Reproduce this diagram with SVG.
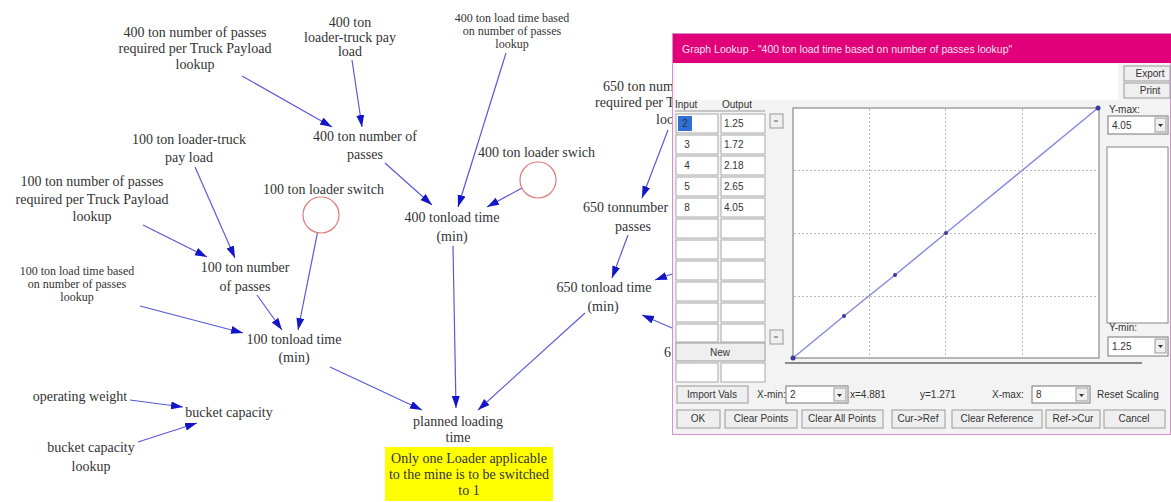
<svg xmlns="http://www.w3.org/2000/svg" width="1171" height="502" viewBox="0 0 1171 502">
<style>
.t{font-family:"Liberation Serif","Times New Roman",serif;font-size:14px;fill:#333;text-anchor:middle}
.tc{font-family:"Liberation Serif","Times New Roman",serif;font-size:12px;fill:#333;text-anchor:middle}
.ts{font-family:"Liberation Serif","Times New Roman",serif;font-size:14px;fill:#333}
.c{fill:none;stroke:#5a5ad8;stroke-width:1.2;marker-end:url(#ah)}
.sw{fill:none;stroke:#e07a7a;stroke-width:1.2}
.d{font-family:"Liberation Sans",Arial,sans-serif;font-size:10px;fill:#333}
.dm{font-family:"Liberation Sans",Arial,sans-serif;font-size:10px;fill:#333;text-anchor:middle}
.cell{fill:#fff;stroke:#a8a8a8;stroke-width:1}
.btn{fill:#efefef;stroke:#9a9a9a;stroke-width:1}
.grid{stroke:#b8b8b8;stroke-width:1;stroke-dasharray:2 2}
.pt{fill:#3a3a9a}
</style>
<defs>
<marker id="ah" markerUnits="userSpaceOnUse" markerWidth="13" markerHeight="9" refX="12" refY="4" orient="auto">
<path d="M0,0 L12,4 L0,8 z" fill="#1414c8"/>
</marker>
</defs>
<rect width="1171" height="502" fill="#fff"/>

<g id="connectors">
<line class="c" x1="242" y1="76" x2="332" y2="127"/>
<line class="c" x1="352" y1="60" x2="362" y2="127"/>
<line class="c" x1="385" y1="163" x2="432" y2="205"/>
<line class="c" x1="506" y1="53" x2="458" y2="207"/>
<line class="c" x1="522" y1="188" x2="487" y2="207"/>
<line class="c" x1="453" y1="246" x2="456" y2="408"/>
<line class="c" x1="195" y1="167" x2="235" y2="258"/>
<line class="c" x1="143" y1="225" x2="207" y2="257"/>
<line class="c" x1="317.5" y1="232.6" x2="298" y2="330"/>
<line class="c" x1="257" y1="295" x2="282" y2="330"/>
<line class="c" x1="140" y1="306" x2="243" y2="333"/>
<line class="c" x1="330" y1="367" x2="422" y2="410"/>
<line class="c" x1="130" y1="400" x2="183" y2="407"/>
<line class="c" x1="138" y1="442" x2="197" y2="423"/>
<line class="c" x1="585" y1="313" x2="478" y2="410"/>
<line class="c" x1="668" y1="130" x2="642" y2="198"/>
<line class="c" x1="628" y1="235" x2="612" y2="278"/>
<line class="c" x1="672" y1="274" x2="655" y2="280"/>
<line class="c" x1="672" y1="328" x2="642" y2="315"/>
</g>

<g id="n400lookup"><text class="t" x="195" y="37">400 ton number of passes</text><text class="t" x="195" y="53">required per Truck Payload</text><text class="t" x="195" y="69">lookup</text></g>
<g id="n400payload"><text class="t" x="350" y="27">400 ton</text><text class="t" x="350" y="42">loader-truck pay</text><text class="t" x="350" y="56">load</text></g>
<g id="n400timelookup"><text class="tc" x="512" y="22">400 ton load time based</text><text class="tc" x="512" y="35">on number of passes</text><text class="tc" x="512" y="48">lookup</text></g>
<g id="n400passes"><text class="t" x="365" y="141">400 ton number of</text><text class="t" x="365" y="159">passes</text></g>
<g id="n400switch"><text class="ts" x="478" y="157">400 ton loader swich</text><circle class="sw" cx="538" cy="180" r="18"/></g>
<g id="n400time"><text class="t" x="452" y="222">400 tonload time</text><text class="t" x="452" y="241">(min)</text></g>
<g id="n100payload"><text class="t" x="189" y="144">100 ton loader-truck</text><text class="t" x="189" y="162">pay load</text></g>
<g id="n100lookup"><text class="t" x="92" y="186">100 ton number of passes</text><text class="t" x="92" y="204">required per Truck Payload</text><text class="t" x="92" y="221">lookup</text></g>
<g id="n100switch"><text class="ts" x="263" y="194">100 ton loader switch</text><circle class="sw" cx="321" cy="215" r="18"/></g>
<g id="n100passes"><text class="t" x="245" y="272">100 ton number</text><text class="t" x="245" y="291">of passes</text></g>
<g id="n100timelookup"><text class="tc" x="77" y="275">100 ton load time based</text><text class="tc" x="77" y="288">on number of passes</text><text class="tc" x="77" y="301">lookup</text></g>
<g id="n100time"><text class="t" x="294" y="344">100 tonload time</text><text class="t" x="294" y="362">(min)</text></g>
<g id="nopweight"><text class="t" x="80" y="401">operating weight</text></g>
<g id="nbucket"><text class="t" x="229" y="417">bucket capacity</text></g>
<g id="nbucketlookup"><text class="t" x="91" y="452">bucket capacity</text><text class="t" x="91" y="471">lookup</text></g>
<g id="nplanned"><text class="t" x="458" y="426">planned loading</text><text class="t" x="458" y="442">time</text></g>
<g id="nnote"><rect x="385" y="447" width="168" height="54" fill="#ffff00"/><text class="t" x="469" y="463">Only one Loader applicable</text><text class="t" x="469" y="479">to the mine is to be switched</text><text class="t" x="469" y="495">to 1</text></g>
<g id="n650lookup"><text class="ts" x="603" y="91">650 ton num</text><text class="ts" x="595" y="107">required per T</text><text class="ts" x="656" y="124">loo</text></g>
<g id="n650passes"><text class="ts" x="583" y="212">650 tonnumber</text><text class="t" x="633" y="231">passes</text></g>
<g id="n650time"><text class="t" x="604" y="292">650 tonload time</text><text class="t" x="603" y="311">(min)</text></g>
<g id="n650other"><text class="ts" x="664" y="357">6</text></g>

<g id="dialog">
<rect x="672.5" y="33.5" width="498" height="401" fill="#f4f3f4" stroke="#d890c8"/>
<rect x="673" y="34" width="498" height="29" fill="#e2007a"/>
<text x="682" y="53" font-family="Liberation Sans,Arial,sans-serif" font-size="10.5" fill="#fbe0ef">Graph Lookup - "400 ton load time based on number of passes lookup"</text>
<rect x="675" y="64" width="443" height="36" fill="#fff"/>
<rect class="btn" x="1124" y="66" width="46" height="15"/><text class="dm" x="1150" y="77">Export</text>
<rect class="btn" x="1124" y="83" width="46" height="15"/><text class="dm" x="1150" y="94">Print</text>
<text class="d" x="675" y="108">Input</text><text class="d" x="722" y="108">Output</text>
<line x1="675" y1="111" x2="765" y2="111" stroke="#999"/>
<g id="table">
<rect class="cell" x="676" y="114" width="42" height="19"/><rect class="cell" x="721" y="114" width="44" height="19"/>
<rect class="cell" x="676" y="135" width="42" height="19"/><rect class="cell" x="721" y="135" width="44" height="19"/>
<rect class="cell" x="676" y="156" width="42" height="19"/><rect class="cell" x="721" y="156" width="44" height="19"/>
<rect class="cell" x="676" y="177" width="42" height="19"/><rect class="cell" x="721" y="177" width="44" height="19"/>
<rect class="cell" x="676" y="198" width="42" height="19"/><rect class="cell" x="721" y="198" width="44" height="19"/>
<rect class="cell" x="676" y="219" width="42" height="19"/><rect class="cell" x="721" y="219" width="44" height="19"/>
<rect class="cell" x="676" y="240" width="42" height="19"/><rect class="cell" x="721" y="240" width="44" height="19"/>
<rect class="cell" x="676" y="261" width="42" height="19"/><rect class="cell" x="721" y="261" width="44" height="19"/>
<rect class="cell" x="676" y="282" width="42" height="19"/><rect class="cell" x="721" y="282" width="44" height="19"/>
<rect class="cell" x="676" y="303" width="42" height="19"/><rect class="cell" x="721" y="303" width="44" height="19"/>
<rect class="cell" x="676" y="324" width="42" height="18"/><rect class="cell" x="721" y="324" width="44" height="18"/>
<rect class="btn" x="676" y="343" width="89" height="18"/><text class="dm" x="720" y="356">New</text>
<rect class="cell" x="676" y="363" width="42" height="19"/><rect class="cell" x="721" y="363" width="44" height="19"/>
<rect x="678" y="116" width="14" height="15" fill="#2f6fd8"/><text class="dm" x="685" y="127" fill="#fff">2</text>
<text class="dm" x="687" y="148">3</text><text class="dm" x="687" y="169">4</text><text class="dm" x="687" y="190">5</text><text class="dm" x="687" y="211">8</text>
<text class="d" x="724" y="127">1.25</text><text class="d" x="724" y="148">1.72</text><text class="d" x="724" y="169">2.18</text><text class="d" x="724" y="190">2.65</text><text class="d" x="724" y="211">4.05</text>
<rect class="btn" x="770" y="114" width="13" height="14"/><line x1="774" y1="121" x2="778" y2="121" stroke="#555"/>
<rect class="btn" x="770" y="330" width="13" height="14"/><line x1="774" y1="337" x2="778" y2="337" stroke="#555"/>
</g>
<g id="plot">
<rect x="793" y="108" width="306" height="250" fill="#fff" stroke="#a0a0a0" stroke-width="1.5"/>
<line class="grid" x1="869.5" y1="109" x2="869.5" y2="357"/>
<line class="grid" x1="945.5" y1="109" x2="945.5" y2="357"/>
<line class="grid" x1="1022.5" y1="109" x2="1022.5" y2="357"/>
<line class="grid" x1="794" y1="170.5" x2="1098" y2="170.5"/>
<line class="grid" x1="794" y1="233.5" x2="1098" y2="233.5"/>
<line class="grid" x1="794" y1="296.5" x2="1098" y2="296.5"/>
<polyline points="793,358 844,316 895,275 946,233 1098,108" fill="none" stroke="#8a8ae0" stroke-width="1.5"/>
<circle class="pt" cx="793" cy="358" r="2.5"/><circle class="pt" cx="844" cy="316" r="2"/><circle class="pt" cx="895" cy="275" r="2"/><circle class="pt" cx="946" cy="233" r="2"/><circle class="pt" cx="1098" cy="108" r="2.5"/>
<line x1="785" y1="363" x2="1142" y2="363" stroke="#8a8a8a" stroke-width="2"/>
</g>
<g id="yaxis">
<text class="d" x="1109" y="113">Y-max:</text>
<rect x="1108" y="116" width="60" height="18" fill="#fff" stroke="#777"/><text class="d" x="1112" y="129">4.05</text>
<rect class="btn" x="1155" y="118" width="11" height="14"/><path d="M1158,124 L1163,124 L1160.5,127 z" fill="#333"/>
<rect x="1107" y="147" width="61" height="176" fill="#fff" stroke="#888"/>
<text class="d" x="1109" y="331">Y-min:</text>
<rect x="1108" y="337" width="60" height="19" fill="#fff" stroke="#777"/><text class="d" x="1112" y="350">1.25</text>
<rect class="btn" x="1155" y="339" width="11" height="14"/><path d="M1158,345 L1163,345 L1160.5,348 z" fill="#333"/>
</g>
<g id="controls">
<rect class="btn" x="677" y="386" width="71" height="17"/><text class="dm" x="712" y="398">Import Vals</text>
<text class="d" x="757" y="398">X-min:</text>
<rect x="786" y="386" width="62" height="17" fill="#fff" stroke="#777"/><text class="d" x="790" y="398">2</text>
<rect class="btn" x="834" y="388" width="12" height="13"/><path d="M837,394 L842,394 L839.5,397 z" fill="#333"/>
<text class="d" x="850" y="398">x=4.881</text>
<text class="d" x="920" y="398">y=1.271</text>
<text class="d" x="992" y="398">X-max:</text>
<rect x="1032" y="386" width="58" height="17" fill="#fff" stroke="#777"/><text class="d" x="1036" y="398">8</text>
<rect class="btn" x="1076" y="388" width="12" height="13"/><path d="M1079,394 L1084,394 L1081.5,397 z" fill="#333"/>
<text class="d" x="1097" y="398">Reset Scaling</text>
<rect class="btn" x="677" y="410" width="43" height="18"/><text class="dm" x="698" y="422">OK</text>
<rect class="btn" x="725" y="410" width="72" height="18"/><text class="dm" x="761" y="422">Clear Points</text>
<rect class="btn" x="802" y="410" width="81" height="18"/><text class="dm" x="842" y="422">Clear All Points</text>
<rect class="btn" x="892" y="410" width="53" height="18"/><text class="dm" x="918" y="422">Cur-&gt;Ref</text>
<rect class="btn" x="952" y="410" width="90" height="18"/><text class="dm" x="997" y="422">Clear Reference</text>
<rect class="btn" x="1046" y="410" width="54" height="18"/><text class="dm" x="1073" y="422">Ref-&gt;Cur</text>
<rect class="btn" x="1104" y="410" width="61" height="18"/><text class="dm" x="1134" y="422">Cancel</text>
</g>
</g>
</svg>
